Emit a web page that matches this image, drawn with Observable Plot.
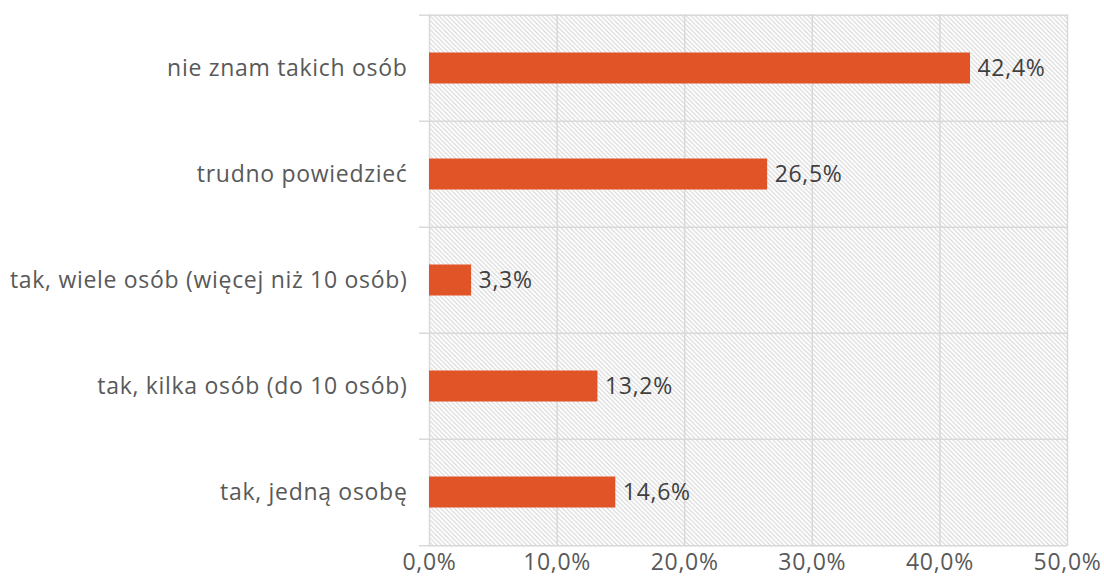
<!DOCTYPE html>
<html>
<head>
<meta charset="utf-8">
<script src="https://cdn.jsdelivr.net/npm/d3@7"></script>
<script src="https://cdn.jsdelivr.net/npm/@observablehq/plot@0.6"></script>
<style>
  html, body { margin: 0; padding: 0; background: #fff; }
  svg { display: block; }
  svg text { letter-spacing: 0.7px; }
</style>
</head>
<body>
<div id="chart"></div>
<script>
const categories = [
  "nie znam takich osób",
  "trudno powiedzieć",
  "tak, wiele osób (więcej niż 10 osób)",
  "tak, kilka osób (do 10 osób)",
  "tak, jedną osobę"
];
const values = [42.4, 26.5, 3.3, 13.2, 14.6];
const xTicks = [0, 10, 20, 30, 40, 50];

const data = categories.map((c, i) => ({category: c, value: values[i]}));
const fmt = v => v.toFixed(1).replace(".", ",") + "%";

const W = 1104, H = 576;
const mTop = 14, mBottom = 30, mLeft = 429, mRight = 37;
const half = (H - mTop - mBottom) / categories.length / 2;
const FS = 23;

const plot = Plot.plot({
  width: W,
  height: H,
  marginTop: mTop,
  marginBottom: mBottom,
  marginLeft: mLeft,
  marginRight: mRight,
  style: {fontFamily: "'Open Sans', sans-serif", fontSize: FS + "px", color: "#595959", background: "#fff", overflow: "visible"},
  x: {domain: [0, 50], ticks: xTicks, tickFormat: fmt, label: null},
  y: {domain: categories, padding: 0, label: null},
  marks: [
    Plot.frame({fill: "url(#hatch)", stroke: "none"}),
    Plot.ruleX(xTicks, {stroke: "#d9d9d9", strokeWidth: 1.5}),
    Plot.ruleY(categories, {y: d => d, dy: -half, stroke: "#d9d9d9", strokeWidth: 1.5, insetLeft: -10}),
    Plot.ruleY([categories[categories.length - 1]], {y: d => d, dy: half, stroke: "#d9d9d9", strokeWidth: 1.5, insetLeft: -10}),
    Plot.barX(data, {x: "value", y: "category", fill: "#e05427", insetTop: 37.5, insetBottom: 37.5}),
    Plot.text(data, {x: "value", y: "category", text: d => fmt(d.value), textAnchor: "start", dx: 7, fill: "#404040", fontSize: FS}),
    Plot.axisX({ticks: xTicks, tickFormat: fmt, tickSize: 0, tickPadding: 7, fontSize: FS, fill: "#595959", label: null}),
    Plot.axisY({tickSize: 0, tickPadding: 22, fontSize: FS, fill: "#595959", label: null})
  ]
});

const svg = d3.select(plot);
const defs = svg.insert("defs", ":first-child");
const pat = defs.append("pattern")
  .attr("id", "hatch")
  .attr("patternUnits", "userSpaceOnUse")
  .attr("width", 4.5)
  .attr("height", 4.5);
pat.append("rect").attr("width", 4.5).attr("height", 4.5).attr("fill", "#ffffff");
pat.append("path")
  .attr("d", "M-1,3.5 L1,5.5 M0,0 L4.5,4.5 M3.5,-1 L5.5,1")
  .attr("stroke", "#d2d2d2")
  .attr("stroke-width", 1);

document.getElementById("chart").appendChild(plot);
</script>
</body>
</html>
